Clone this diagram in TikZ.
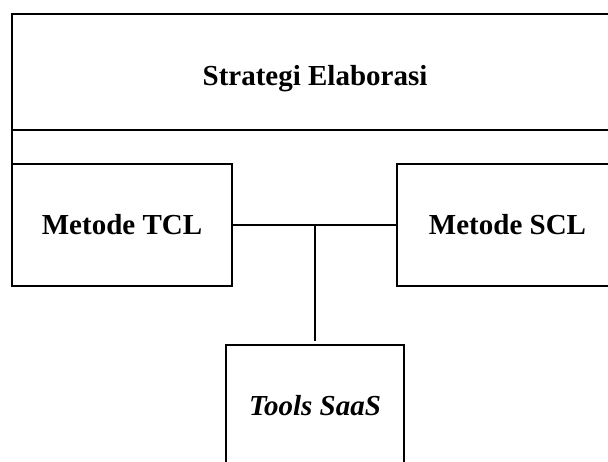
\documentclass[tikz,border=0pt]{standalone}
\usepackage{fontspec}
\setmainfont{Liberation Serif}
\begin{document}
\begin{tikzpicture}[x=1pt,y=-1pt,
  box/.style={draw,line width=1.2pt,inner sep=0pt,outer sep=0pt,text height=19.5pt,text depth=0pt,font=\fontsize{29}{34}\selectfont\bfseries},
  link/.style={line width=1.2pt}]
\useasboundingbox (0,0) rectangle (608,461);
\clip (0,0) rectangle (608,461);
\node[box,text height=26pt,minimum width=606pt,minimum height=116pt] (top) at (315,72) {Strategi Elaborasi};
\node[box,minimum width=220pt,minimum height=122pt] (tcl) at (122,225) {Metode TCL};
\node[box,minimum width=221pt,minimum height=122pt] (scl) at (507.5,225) {Metode SCL};
\node[box,minimum width=178pt,minimum height=122pt] (tools) at (315,406) {\itshape Tools SaaS};
\draw[link] (top.south west) -- (tcl.north west);
\draw[link] (top.south east) -- (scl.north east);
\draw[link] (tcl.east) -- (scl.west);
\coordinate (j) at (315,225);
\draw[link] (j) -- ([yshift=4pt]tools.north);
\end{tikzpicture}
\end{document}
